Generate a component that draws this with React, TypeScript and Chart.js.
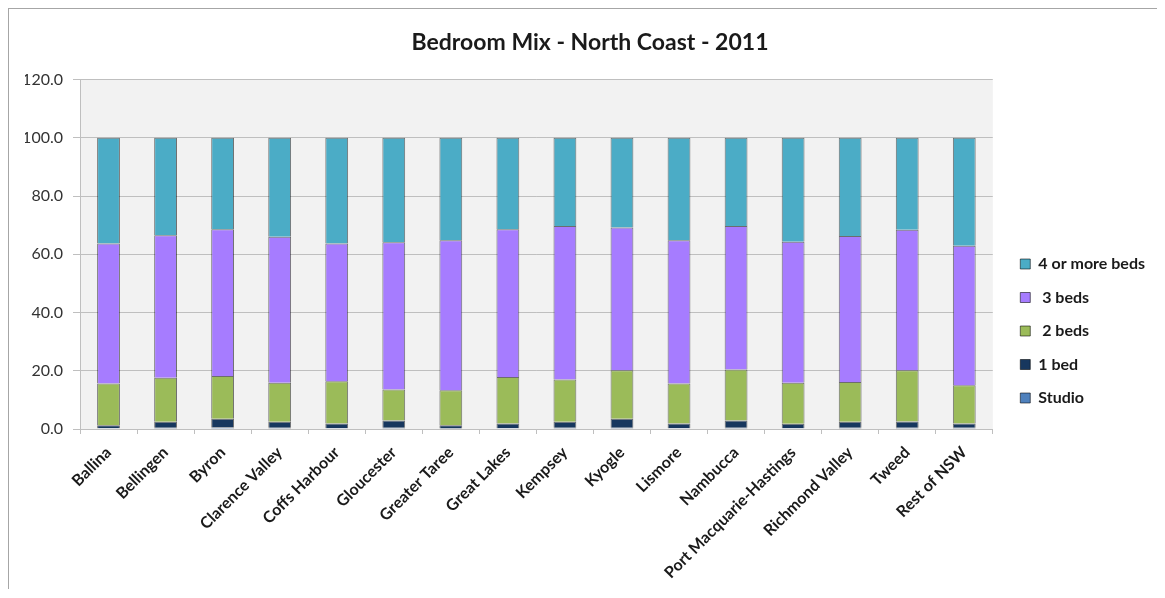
import React, { useEffect, useRef } from "react";
import { Chart, registerables } from "chart.js";

Chart.register(...registerables);

const categories = [
  "Ballina", "Bellingen", "Byron", "Clarence Valley", "Coffs Harbour", "Gloucester",
  "Greater Taree", "Great Lakes", "Kempsey", "Kyogle", "Lismore", "Nambucca",
  "Port Macquarie-Hastings", "Richmond Valley", "Tweed", "Rest of NSW",
];

const studio = [0.3, 0.4, 0.5, 0.4, 0.3, 0.4, 0.2, 0.3, 0.4, 0.4, 0.3, 0.4, 0.3, 0.4, 0.4, 0.4];
const oneBed = [1.0, 2.1, 3.0, 2.1, 1.6, 2.5, 1.1, 1.6, 2.1, 3.1, 1.6, 2.5, 1.5, 2.1, 2.2, 1.5];
const twoBeds = [14.3, 15.1, 14.7, 13.4, 14.5, 10.7, 12.0, 16.0, 14.5, 16.7, 13.7, 17.5, 14.1, 13.6, 17.6, 13.1];
const threeBeds = [48.1, 48.9, 50.4, 50.1, 47.3, 50.5, 51.5, 50.7, 52.7, 49.0, 49.2, 49.3, 48.4, 50.2, 48.2, 47.9];
const fourPlus = [36.3, 33.5, 31.4, 34.0, 36.3, 35.9, 35.2, 31.4, 30.3, 30.8, 35.2, 30.3, 35.7, 33.7, 31.6, 37.1];

const yTicks = [0, 20, 40, 60, 80, 100, 120];
const title = "Bedroom Mix - North Coast - 2011";

const plotBg = {
  id: "plotBg",
  beforeDraw(chart: any) {
    const { ctx, chartArea } = chart;
    ctx.save();
    ctx.fillStyle = "#f2f2f2";
    ctx.fillRect(chartArea.left, chartArea.top, chartArea.right - chartArea.left, chartArea.bottom - chartArea.top);
    ctx.restore();
  },
};

export default function App() {
  const ref = useRef<HTMLCanvasElement>(null);
  useEffect(() => {
    if (!ref.current) return;
    const border = "rgba(0,0,0,0.55)";
    const ds = (label: string, data: number[], color: string) => ({
      label,
      data,
      backgroundColor: color,
      borderColor: border,
      borderWidth: 1,
      barPercentage: 0.8,
      categoryPercentage: 0.5,
      yAxisID: "y",
    });
    const chart = new Chart(ref.current, {
      type: "bar",
      data: {
        labels: categories,
        datasets: [
          ds("Studio", studio, "#4f81bd"),
          ds("1 bed", oneBed, "#17375e"),
          ds(" 2 beds", twoBeds, "#9bbb59"),
          ds(" 3 beds", threeBeds, "#a67cff"),
          ds("4 or more beds", fourPlus, "#4bacc6"),
        ],
      },
      options: {
        animation: false,
        responsive: false,
        maintainAspectRatio: false,
        layout: { padding: { left: 16, right: 16, top: 0, bottom: 0 } },
        plugins: {
          title: {
            display: true,
            text: title,
            color: "#1a1a1a",
            font: { family: "Lato", size: 23, weight: "bold" },
            padding: { top: 20, bottom: 23 },
          },
          legend: {
            position: "right",
            reverse: true,
            title: { display: true, text: " ", font: { size: 10 }, padding: { top: 26, bottom: 26 } },
            labels: {
              boxWidth: 10,
              boxHeight: 10,
              padding: 17.5,
              color: "#1a1a1a",
              font: { family: "Lato", size: 16, weight: "bold" },
            },
          },
          tooltip: { enabled: false },
        },
        scales: {
          x: {
            stacked: true,
            afterFit: (s: any) => { s.height = 160; },
            grid: { drawOnChartArea: false, drawTicks: true, tickLength: 5, color: "#bfbfbf" },
            border: { display: true, color: "#bfbfbf" },
            ticks: {
              maxRotation: 45,
              minRotation: 45,
              autoSkip: false,
              padding: 9,
              color: "#1a1a1a",
              font: { family: "Lato", size: 16, weight: "bold" },
            },
          },
          y: {
            stacked: true,
            min: 0,
            max: 120,
            afterFit: (s: any) => { s.width = 55; },
            afterBuildTicks: (s: any) => { s.ticks = yTicks.map((v) => ({ value: v })); },
            grid: { color: "#bfbfbf", tickLength: 7 },
            border: { display: true, color: "#bfbfbf" },
            ticks: {
              padding: 10,
              color: "#333333",
              font: { family: "Lato", size: 16 },
              callback: (v: any) => Number(v).toFixed(1),
            },
          },
          gap: {
            type: "linear",
            position: "right",
            display: true,
            afterFit: (s: any) => { s.width = 10; },
            grid: { display: false, drawOnChartArea: false, drawTicks: false },
            border: { display: false },
            ticks: { display: false },
          },
        },
      },
      plugins: [plotBg],
    });
    return () => chart.destroy();
  }, []);
  return (
    <div style={{ width: 1156, height: 580, overflow: "hidden", borderLeft: "1px solid #a6a6a6", borderTop: "1px solid #a6a6a6" }}>
      <canvas ref={ref} width={1162} height={580} style={{ display: "block" }} />
    </div>
  );
}
